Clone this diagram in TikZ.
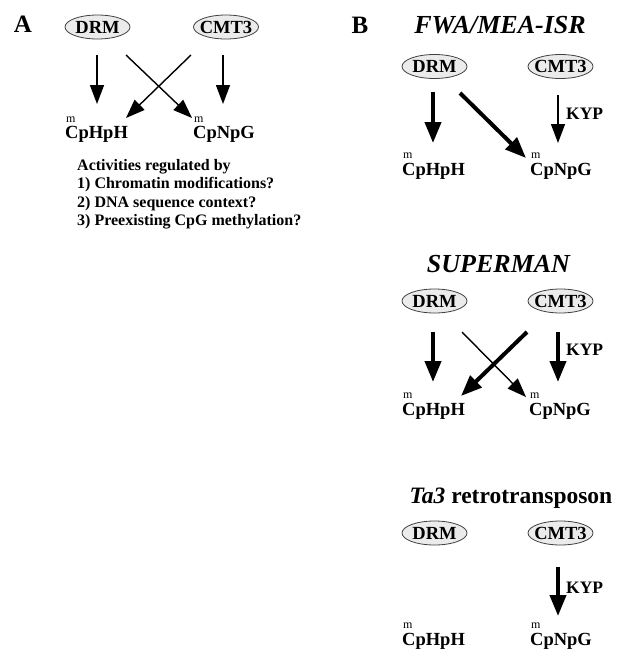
\documentclass[tikz,border=0pt]{standalone}
\usepackage{fontspec}
\setmainfont{Liberation Serif}
\usetikzlibrary{shapes.geometric,arrows.meta}
\newcommand\enzbox[1]{\makebox[20pt][c]{#1}}
\begin{document}
\begin{tikzpicture}[x=1pt,y=-1pt,
 enz/.style={ellipse,draw=black!75,fill=black!8,line width=0.8pt,minimum width=65pt,minimum height=24pt,inner sep=0pt,font=\bfseries\fontsize{18.5}{18.5}\selectfont},
 site/.style={anchor=base west,inner sep=0pt,font=\bfseries\fontsize{18.5}{18.5}\selectfont},
 msup/.style={anchor=base west,inner sep=0pt,font=\fontsize{12}{12}\selectfont},
 thinarr/.style={line width=1.4pt,-{Triangle[length=19pt,width=14pt]}},
 thickarr/.style={line width=4pt,-{Triangle[length=21pt,width=16pt]}},
 ttl/.style={anchor=base,inner sep=0pt,font=\bfseries\itshape\fontsize{26}{26}\selectfont},
 lbl/.style={anchor=base,inner sep=0pt,font=\bfseries\fontsize{25}{25}\selectfont},
 kyp/.style={anchor=west,inner sep=0pt,font=\bfseries\fontsize{17.5}{17.5}\selectfont},
 act/.style={anchor=base west,inner sep=0pt,font=\bfseries\fontsize{16}{16}\selectfont}]
\useasboundingbox (0,0) rectangle (621,656);

% ---------- Panel A ----------
\node[lbl] (lblA) at (23,32) {A};
\node[enz] (drmA) at (97.5,27) {\enzbox{DRM}};
\node[enz] (cmtA) at (226,27) {\enzbox{CMT3}};
\node[site] (cphA) at (65,138) {CpHpH};
\node[msup] (mA1) at (66,122) {m};
\node[site] (cnpA) at (193,138) {CpNpG};
\node[msup] (mA2) at (194,122) {m};
\coordinate (a1s) at (97,55);  \coordinate (a1e) at (97,104);
\coordinate (a2s) at (223,55); \coordinate (a2e) at (223,104);
\coordinate (a3s) at (126,55); \coordinate (a3e) at (192,118);
\coordinate (a4s) at (191,55); \coordinate (a4e) at (126,118);
\draw[thinarr] (a1s) -- (a1e);
\draw[thinarr] (a2s) -- (a2e);
\draw[thinarr] (a3s) -- (a3e);
\draw[thinarr] (a4s) -- (a4e);
\node[act] (act1) at (77,170) {Activities regulated by};
\node[act] (act2) at (77,188.5) {1) Chromatin modifications?};
\node[act] (act3) at (77,207) {2) DNA sequence context?};
\node[act] (act4) at (77,225.5) {3) Preexisting CpG methylation?};

% ---------- Panel B ----------
\node[lbl] (lblB) at (360,33) {B};

% FWA/MEA-ISR
\node[ttl] (t1) at (500,33) {FWA/MEA-ISR};
\node[enz] (drmB1) at (434.5,66.5) {\enzbox{DRM}};
\node[enz] (cmtB1) at (560.5,66.5) {\enzbox{CMT3}};
\node[site] (cphB1) at (402,175) {CpHpH};
\node[msup] (mB1a) at (403,158) {m};
\node[site] (cnpB1) at (530,175) {CpNpG};
\node[msup] (mB1b) at (531,158) {m};
\coordinate (b1s) at (433,92);  \coordinate (b1e) at (433,143);
\coordinate (b2s) at (460,93);  \coordinate (b2e) at (526,158);
\coordinate (b3s) at (558,95);  \coordinate (b3e) at (558,143);
\draw[thickarr] (b1s) -- (b1e);
\draw[thickarr] (b2s) -- (b2e);
\draw[thinarr] (b3s) -- (b3e);
\node[kyp] (kyp1) at (566,114) {KYP};

% SUPERMAN
\node[ttl] (t2) at (498.5,272) {SUPERMAN};
\node[enz] (drmB2) at (434.5,301) {\enzbox{DRM}};
\node[enz] (cmtB2) at (560.5,301) {\enzbox{CMT3}};
\node[site] (cphB2) at (402,415) {CpHpH};
\node[msup] (mB2a) at (403,398) {m};
\node[site] (cnpB2) at (529,415) {CpNpG};
\node[msup] (mB2b) at (530,398) {m};
\coordinate (c1s) at (433,332);  \coordinate (c1e) at (433,382);
\coordinate (c2s) at (462,332);  \coordinate (c2e) at (526,397);
\coordinate (c3s) at (527,332);  \coordinate (c3e) at (461,396);
\coordinate (c4s) at (558,332);  \coordinate (c4e) at (558,382);
\draw[thickarr] (c1s) -- (c1e);
\draw[thinarr] (c2s) -- (c2e);
\draw[thickarr] (c3s) -- (c3e);
\draw[thickarr] (c4s) -- (c4e);
\node[kyp] (kyp2) at (566,350) {KYP};

% Ta3 retrotransposon
\node[ttl,font=\bfseries\fontsize{23.5}{23.5}\selectfont] (t3) at (511,503) {\textit{Ta3} retrotransposon};
\node[enz] (drmB3) at (434.5,533) {\enzbox{DRM}};
\node[enz] (cmtB3) at (560.5,533) {\enzbox{CMT3}};
\node[site] (cphB3) at (402,645) {CpHpH};
\node[msup] (mB3a) at (403,628) {m};
\node[site] (cnpB3) at (530,645) {CpNpG};
\node[msup] (mB3b) at (531,628) {m};
\coordinate (d1s) at (558,567);  \coordinate (d1e) at (558,616);
\draw[thickarr] (d1s) -- (d1e);
\node[kyp] (kyp3) at (566,588) {KYP};
\end{tikzpicture}
\end{document}
